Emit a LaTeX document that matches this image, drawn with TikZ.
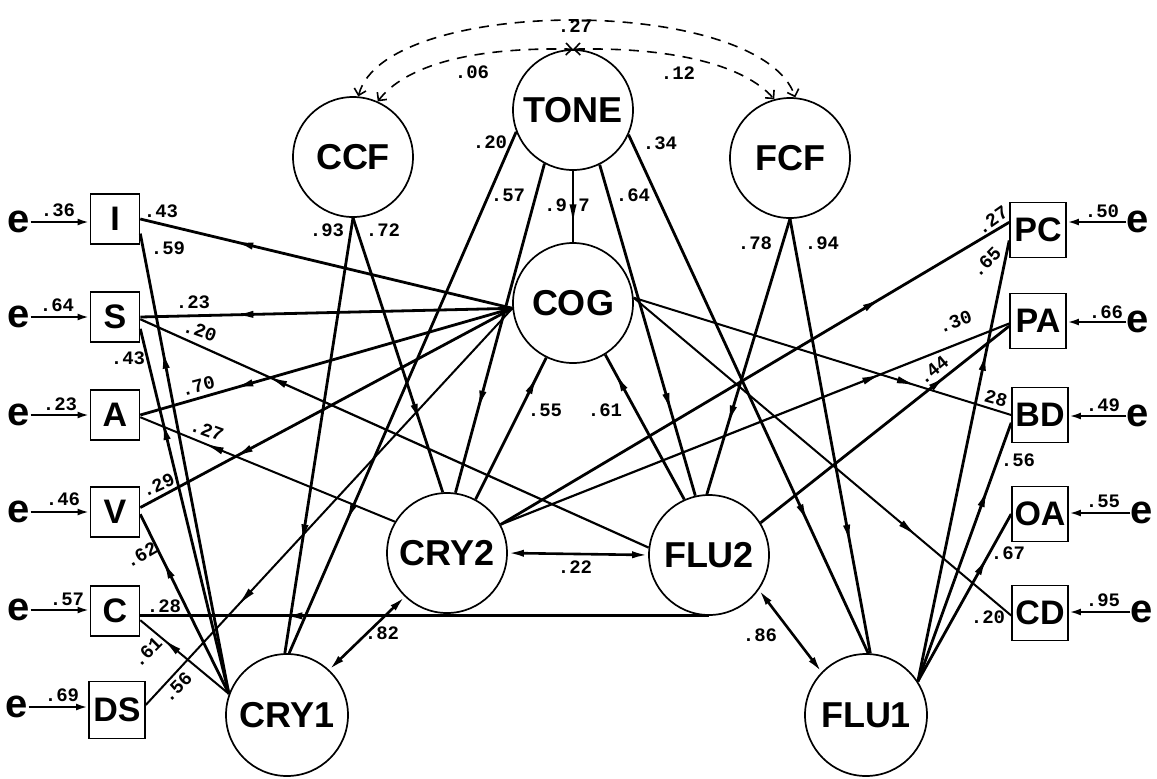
\documentclass[tikz,border=0pt]{standalone}
\usepackage{fontspec}
\setmainfont{Liberation Sans}
\setmonofont{Liberation Mono}
\usetikzlibrary{arrows.meta,decorations.markings}
\tikzset{
    factor/.style = {circle,
                    draw=black,
                    text=black,
                    line width=0.85pt,
                    minimum size=60pt,
                    inner sep=0pt,
                    font=\fontsize{18}{18}\selectfont\bfseries},
    ind/.style =    {rectangle,
                    draw=black,
                    text=black,
                    line width=0.8pt,
                    minimum width=24.5pt,
                    minimum height=25pt,
                    inner sep=0pt,
                    font=\fontsize{17}{17}\selectfont\bfseries},
    err/.style =    {inner sep=0pt,
                    font=\fontsize{20}{20}\selectfont\bfseries},
    lbl/.style =    {inner sep=0pt,
                    font=\fontsize{9.5}{10}\selectfont\ttfamily\bfseries},
    -,
    load/.style =   {draw=black,
                    line width=1.4pt,
                    postaction={decorate},
                    decoration={markings,
                        mark=at position #1 with {\arrow{Latex[length=10pt,width=3.6pt]}}}},
    load/.default = 0.75,
    corr/.style =   {draw=black,
                    line width=1.3pt,
                    {Latex[length=8pt,width=3.6pt]}-{Latex[length=8pt,width=3.6pt]}},
    eline/.style =  {draw=black,
                    line width=1.3pt,
                    -{Latex[length=6pt,width=3.4pt]}},
    cov/.style =    {draw=black,
                    line width=0.8pt,
                    dashed,
                    dash pattern=on 5pt off 4pt,
                    {Straight Barb[length=3pt]}-{Straight Barb[length=3pt]}}}

\begin{document}
\begin{tikzpicture}[x=0.5pt,y=-0.5pt]
    \useasboundingbox (0,0) rectangle (1157,778);

    % latent variables
    \node[factor]                   (TONE) at (573,110)   {TONE};
    \node[factor]                   (CCF)  at (353,157)   {CCF};
    \node[factor]                   (FCF)  at (790,158)   {FCF};
    \node[factor]                   (COG)  at (573,303)   {COG};
    \node[factor]                   (CRY2) at (447,553)   {CRY2};
    \node[factor]                   (FLU2) at (709,555)   {FLU2};
    \node[factor,minimum size=61pt] (CRY1) at (287,715)   {CRY1};
    \node[factor,minimum size=61pt] (FLU1) at (866,715)   {FLU1};

    % measured variables, left
    \node[ind]  (I)  at (115,219)  {I};
    \node[ind]  (S)  at (115,317)  {S};
    \node[ind]  (A)  at (115,415)  {A};
    \node[ind]  (V)  at (115,512)  {V};
    \node[ind]  (C)  at (115,611)  {C};
    \node[ind,minimum width=28pt,minimum height=28.5pt] (DS) at (117,710) {DS};

    % measured variables, right
    \node[ind,minimum width=28pt,minimum height=27.5pt] (PC) at (1038,230) {PC};
    \node[ind,minimum width=28pt,minimum height=27.5pt] (PA) at (1038,321) {PA};
    \node[ind,minimum width=28pt,minimum height=27.5pt] (BD) at (1040,415) {BD};
    \node[ind,minimum width=28pt,minimum height=27.5pt] (OA) at (1040,514) {OA};
    \node[ind,minimum width=28pt,minimum height=27.5pt] (CD) at (1040,613) {CD};

    % residuals
    \node[err]  (eI)  at (19,222)   {e};
    \node[err]  (eS)  at (19,317)   {e};
    \node[err]  (eA)  at (19,415)   {e};
    \node[err]  (eV)  at (19,512)   {e};
    \node[err]  (eC)  at (19,610)   {e};
    \node[err]  (eDS) at (17,707)   {e};
    \node[err]  (ePC) at (1138,222) {e};
    \node[err]  (ePA) at (1138,322) {e};
    \node[err]  (eBD) at (1138,416) {e};
    \node[err]  (eOA) at (1142,513) {e};
    \node[err]  (eCD) at (1142,612) {e};

    \draw[eline] (eI)  -- (eI -| I.west);
    \draw[eline] (eS)  -- (eS -| S.west);
    \draw[eline] (eA)  -- (eA -| A.west);
    \draw[eline] (eV)  -- (eV -| V.west);
    \draw[eline] (eC)  -- (eC -| C.west);
    \draw[eline] (eDS) -- (eDS -| DS.west);
    \draw[eline] (ePC) -- (ePC -| PC.east);
    \draw[eline] (ePA) -- (ePA -| PA.east);
    \draw[eline] (eBD) -- (eBD -| BD.east);
    \draw[eline] (eOA) -- (eOA -| OA.east);
    \draw[eline] (eCD) -- (eCD -| CD.east);

    % loadings, left side
    \draw[load]                (COG.185)  -- (I.east);
    \draw[load]                (CRY1.160) -- (I.-30);
    \draw[load]                (COG.185)  -- (S.east);
    \draw[load,line width=1.1pt] (FLU2.173) -- (S.-5);
    \draw[load]                (CRY1.160) -- (S.-25);
    \draw[load]                (COG.185)  -- (A.east);
    \draw[load,line width=1pt] (CRY2.149) -- (A.-5);
    \draw[load]                (COG.185)  -- (V.10);
    \draw[load]                (CRY1.160) -- (V.-5);
    \draw[load]                (FLU2.south) -- (C.east |- FLU2.south);
    \draw[load,line width=1pt] (CRY1.160) -- (C.-20);
    \draw[load,line width=1pt] (COG.185)  -- (DS.10);

    % loadings, right side
    \draw[load]                (CRY2.28)  -- (PC.165);
    \draw[load]                (FLU1.33)  -- (PC.200);
    \draw[load,line width=1.1pt] (CRY2.28)  -- (PA.185);
    \draw[load]                (FLU2.32)  -- (PA.190);
    \draw[load,line width=1pt] (COG.5)    -- (BD.west);
    \draw[load]                (FLU1.33)  -- (BD.195);
    \draw[load]                (FLU1.33)  -- (OA.west);
    \draw[load,line width=1pt] (COG.5)    -- (CD.185);

    % higher order paths
    \draw[load]                (CCF.270)  -- (CRY1.92);
    \draw[load]                (CCF.270)  -- (CRY2.94);
    \draw[load]                (TONE.201) -- (CRY1.88);
    \draw[load]                (TONE.242) -- (CRY2.82);
    \draw[load,line width=1pt] (TONE.270) -- (COG.90);
    \draw[load]                (TONE.296) -- (FLU2.103);
    \draw[load]                (TONE.336) -- (FLU1.88);
    \draw[load]                (FCF.270)  -- (FLU2.92);
    \draw[load]                (FCF.270)  -- (FLU1.86);
    \draw[load=0.88]           (CRY2.62)  -- (COG.244);
    \draw[load=0.88]           (FLU2.114) -- (COG.302);

    % correlations
    \draw[corr] (CRY2.east) -- (FLU2.west);
    \draw[corr] (CRY1.47)   -- (CRY2.226);
    \draw[corr] (FLU2.325)  -- (FLU1.136);

    \draw[cov] (CCF.85) .. controls (385,-5) and (760,-5) .. (FCF.85);
    \draw[cov] (CCF.66) .. controls (405,66) and (470,47) .. (TONE.north);
    \draw[cov] (TONE.north) .. controls (676,47) and (745,66) .. (FCF.105);

    % residual values
    \node[lbl] (vI)  at (58,210)   {.36};
    \node[lbl] (vS)  at (57,305)   {.64};
    \node[lbl] (vA)  at (60,404)   {.23};
    \node[lbl] (vV)  at (63,499)   {.46};
    \node[lbl] (vC)  at (67,599)   {.57};
    \node[lbl] (vDS) at (62,695)   {.69};
    \node[lbl] (vPC) at (1102,211) {.50};
    \node[lbl] (vPA) at (1106,312) {.66};
    \node[lbl] (vBD) at (1103,405) {.49};
    \node[lbl] (vOA) at (1103,501) {.55};
    \node[lbl] (vCD) at (1103,600) {.95};

    % path values
    \node[lbl]            (lICOG)   at (161,211) {.43};
    \node[lbl]            (lICRY)   at (168,248) {.59};
    \node[lbl]            (lSCOG)   at (193,302) {.23};
    \node[lbl,rotate=-20] (lSFLU)   at (200,331) {.20};
    \node[lbl]            (lSCRY)   at (128,358) {.43};
    \node[lbl,rotate=15]  (lACOG)   at (198,386) {.70};
    \node[lbl,rotate=-20] (lACRY)   at (207,430) {.27};
    \node[lbl,rotate=25]  (lVCOG)   at (158,485) {.29};
    \node[lbl,rotate=30]  (lVCRY)   at (141,555) {.62};
    \node[lbl]            (lCFLU)   at (164,606) {.28};
    \node[lbl,rotate=45]  (lCCRY)   at (147,652) {.61};
    \node[lbl,rotate=45]  (lDSCOG)  at (177,687) {.56};
    \node[lbl,rotate=35]  (lPCCRY)  at (992,220) {.27};
    \node[lbl,rotate=45]  (lPCFLU)  at (986,262) {.65};
    \node[lbl,rotate=20]  (lPACRY)  at (955,322) {.30};
    \node[lbl,rotate=40]  (lPAFLU)  at (933,370) {.44};
    \node[lbl,rotate=-15] (lBDCOG)  at (996,398) {28};
    \node[lbl]            (lBDFLU)  at (1018,460) {.56};
    \node[lbl]            (lOAFLU)  at (1008,553) {.67};
    \node[lbl]            (lCDCOG)  at (988,617) {.20};
    \node[lbl]            (lCCF1)   at (327,230) {.93};
    \node[lbl]            (lCCF2)   at (383,230) {.72};
    \node[lbl]            (lFCF2)   at (755,243) {.78};
    \node[lbl]            (lFCF1)   at (822,243) {.94};
    \node[lbl]            (lTCRY1)  at (490,142) {.20};
    \node[lbl]            (lTCRY2)  at (508,195) {.57};
    \node[lbl]            (lTCOG)   at (567,205) {.9\ 7};
    \node[lbl]            (lTFLU2)  at (633,195) {.64};
    \node[lbl]            (lTFLU1)  at (660,143) {.34};
    \node[lbl]            (lCRYCOG) at (545,410) {.55};
    \node[lbl]            (lFLUCOG) at (605,410) {.61};
    \node[lbl]            (l22)     at (575,567) {.22};
    \node[lbl]            (l82)     at (382,633) {.82};
    \node[lbl]            (l86)     at (760,635) {.86};
    \node[lbl]            (l27)     at (575,26)  {.27};
    \node[lbl]            (l06)     at (472,72)  {.06};
    \node[lbl]            (l12)     at (678,73)  {.12};
\end{tikzpicture}
\end{document}
